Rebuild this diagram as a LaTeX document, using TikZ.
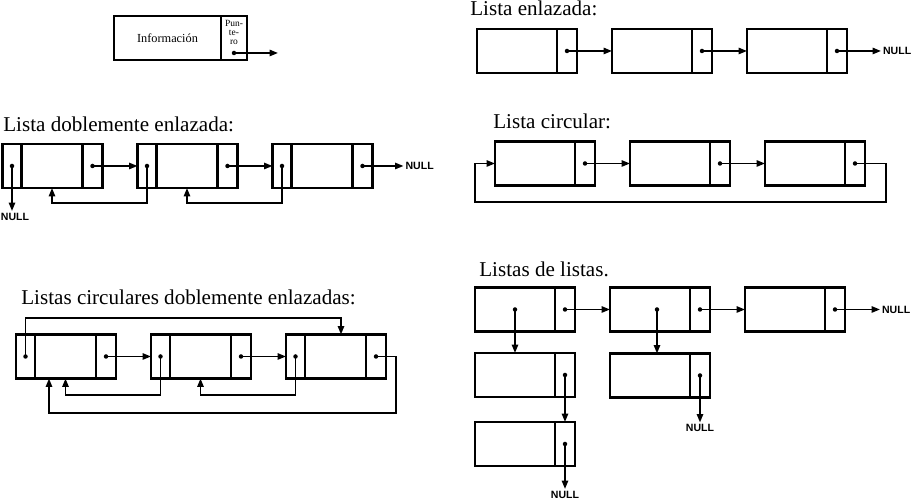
\documentclass[tikz,border=0pt]{standalone}
\usepackage{fontspec}
\setmainfont{Liberation Serif}
\newfontfamily\smallsans{Liberation Sans}
\usetikzlibrary{arrows.meta, positioning}

\begin{document}
\begin{tikzpicture}[
  node distance=0.7cm,
  info/.style={draw, line width=1.3pt, minimum width=1.6cm, minimum height=0.88cm, inner sep=0pt, outer sep=0pt},
  ptrcell/.style={info, minimum width=0.4cm},
  prevcell/.style={info, minimum width=0.38cm},
  midcell/.style={info, minimum width=1.22cm},
  heading/.style={anchor=base west, inner sep=0pt, font=\fontsize{12}{14}\selectfont},
  nulltxt/.style={inner sep=1pt, font=\smallsans\bfseries\fontsize{6}{7}\selectfont},
  link/.style={-{Triangle[length=4.8pt, width=3.6pt]}, line width=1pt}
]
\useasboundingbox (0,0) rectangle (18.26,10);

% legend
\node[info, minimum width=2.14cm, anchor=west, font=\fontsize{7}{8}\selectfont] (leg) at (2.28,9.24) {Información};
\node[ptrcell, minimum width=0.52cm, right=0pt of leg] (legp) {};
\node[below=0.07cm of legp.north, inner sep=0pt, align=center, font=\fontsize{5.4}{5.2}\selectfont] (legtxt) {Pun-\\te-\\ro};
\coordinate (legend end) at (5.56,8.94);
\fill ([yshift=-0.3cm]legp.center) circle (0.045);
\draw[link] ([yshift=-0.3cm]legp.center) -- (legend end);

% lista enlazada
\node[heading] (hEnl) at (9.4,9.68) {Lista enlazada:};
\node[info, anchor=west] (e1) at (9.54,8.98) {};
\node[ptrcell, right=0pt of e1] (e1p) {};
\node[info, right=of e1p] (e2) {};
\node[ptrcell, right=0pt of e2] (e2p) {};
\node[info, right=of e2p] (e3) {};
\node[ptrcell, right=0pt of e3] (e3p) {};
\node[nulltxt, right=0.68cm of e3p] (e3n) {NULL};
\draw[link] (e1p.center) -- (e2.west);
\draw[link] (e2p.center) -- (e3.west);
\draw[link] (e3p.center) -- (e3n.west);

% lista circular
\node[heading] (hCirc) at (9.86,7.42) {Lista circular:};
\node[info, anchor=west] (c1) at (9.9,6.73) {};
\node[ptrcell, right=0pt of c1] (c1p) {};
\node[info, right=of c1p] (c2) {};
\node[ptrcell, right=0pt of c2] (c2p) {};
\node[info, right=of c2p] (c3) {};
\node[ptrcell, right=0pt of c3] (c3p) {};
\coordinate (cret) at (9.5,5.96);
\draw[link] (c1p.center) -- (c2.west);
\draw[link] (c2p.center) -- (c3.west);
\draw[link] (c3p.center) -- ++(0.62,0) |- (cret) |- (c1.west);

% lista doblemente enlazada
\node[heading] (hDob) at (0.06,7.36) {Lista doblemente enlazada:};
\node[prevcell, anchor=west] (d1l) at (0.05,6.68) {};
\node[midcell, right=0pt of d1l] (d1m) {};
\node[ptrcell, right=0pt of d1m] (d1r) {};
\node[prevcell, right=of d1r] (d2l) {};
\node[midcell, right=0pt of d2l] (d2m) {};
\node[ptrcell, right=0pt of d2m] (d2r) {};
\node[prevcell, right=of d2r] (d3l) {};
\node[midcell, right=0pt of d3l] (d3m) {};
\node[ptrcell, right=0pt of d3m] (d3r) {};
\node[nulltxt, below=0.46cm of d1l, xshift=0.06cm] (d1n) {NULL};
\node[nulltxt, right=0.62cm of d3r] (d3n) {NULL};
\draw[link] (d1r.center) -- (d2l.west);
\draw[link] (d2r.center) -- (d3l.west);
\draw[link] (d3r.center) -- (d3n.west);
\draw[link] (d1l.center) -- (d1l.center |- d1n.north);
\draw[link] (d2l.center) -- ++(0,-0.74) -| (d1m.south);
\draw[link] (d3l.center) -- ++(0,-0.74) -| (d2m.south);

% listas circulares doblemente enlazadas
\node[heading] (hCd) at (0.42,3.9) {Listas circulares doblemente enlazadas:};
\node[prevcell, anchor=west] (r1l) at (0.32,2.87) {};
\node[midcell, right=0pt of r1l] (r1m) {};
\node[ptrcell, right=0pt of r1m] (r1r) {};
\node[prevcell, right=of r1r] (r2l) {};
\node[midcell, right=0pt of r2l] (r2m) {};
\node[ptrcell, right=0pt of r2m] (r2r) {};
\node[prevcell, right=of r2r] (r3l) {};
\node[midcell, right=0pt of r3l] (r3m) {};
\node[ptrcell, right=0pt of r3m] (r3r) {};
\draw[link] (r1l.center) -- ++(0,0.77) -| ([xshift=0.11cm]r3m.north);
\draw[link] (r1r.center) -- (r2l.west);
\draw[link] (r2r.center) -- (r3l.west);
\draw[link] (r2l.center) -- ++(0,-0.77) -| (r1m.south);
\draw[link] (r3l.center) -- ++(0,-0.77) -| (r2m.south);
\draw[link] (r3r.center) -- ++(0.4,0) -- ++(0,-1.13) -| ([xshift=-0.33cm]r1m.south);

% listas de listas
\node[heading] (hLl) at (9.58,4.46) {Listas de listas.};
\node[info, anchor=west] (s1) at (9.5,3.81) {};
\node[ptrcell, right=0pt of s1] (s1p) {};
\node[info, right=of s1p] (s2) {};
\node[ptrcell, right=0pt of s2] (s2p) {};
\node[info, right=of s2p] (s3) {};
\node[ptrcell, right=0pt of s3] (s3p) {};
\node[nulltxt, right=0.7cm of s3p] (s3n) {NULL};
\node[info, below=0.43cm of s1] (s1a) {};
\node[ptrcell, right=0pt of s1a] (s1ap) {};
\node[info, below=0.5cm of s1a] (s1b) {};
\node[ptrcell, right=0pt of s1b] (s1bp) {};
\node[nulltxt, below=0.46cm of s1bp] (s1bn) {NULL};
\node[info, below=0.44cm of s2] (s2a) {};
\node[ptrcell, right=0pt of s2a] (s2ap) {};
\node[nulltxt, below=0.5cm of s2ap] (s2an) {NULL};
\fill (s1.center) circle (0.045);
\fill ([xshift=0.14cm]s2.center) circle (0.045);
\draw[link] (s1.center) -- (s1a.north);
\draw[link] ([xshift=0.14cm]s2.center) -- ([xshift=0.14cm]s2a.north);
\draw[link] (s1p.center) -- (s2.west);
\draw[link] (s2p.center) -- (s3.west);
\draw[link] (s3p.center) -- (s3n.west);
\draw[link] (s1ap.center) -- (s1bp.north);
\draw[link] (s1bp.center) -- (s1bn.north);
\draw[link] (s2ap.center) -- (s2an.north);

% pointer dots
\foreach \c in {e1p, e2p, e3p, c1p, c2p, c3p, d1l, d1r, d2l, d2r, d3l, d3r,
                r1l, r1r, r2l, r2r, r3l, r3r, s1p, s2p, s3p, s1ap, s1bp, s2ap}
  \fill (\c.center) circle (0.045);
\end{tikzpicture}
\end{document}
